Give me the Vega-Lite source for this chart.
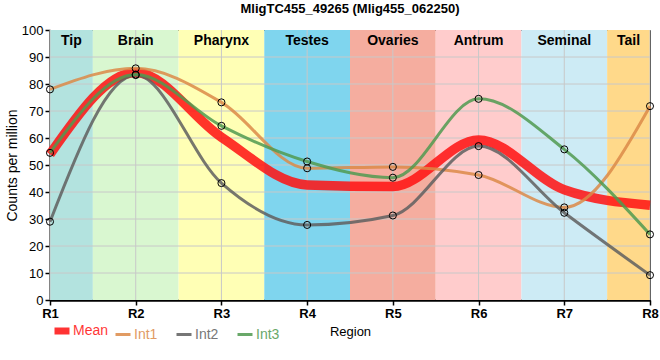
{
  "$schema": "https://vega.github.io/schema/vega-lite/v6.json",
  "width": 600,
  "height": 270,
  "autosize": {"type": "none"},
  "padding": {"left": 50, "top": 30, "right": 10, "bottom": 60},
  "title": {"text": "MligTC455_49265 (Mlig455_062250)", "font": "Liberation Sans", "fontSize": 13, "fontWeight": "bold", "color": "#000", "offset": 8},
  "config": {
    "font": "Liberation Sans",
    "view": {"stroke": "#000", "strokeWidth": 1},
    "axisX": {"grid": false, "domainColor": "#000", "domainWidth": 2.5, "tickColor": "#000", "tickSize": 5, "tickWidth": 1.5,
      "labelFont": "Liberation Sans", "labelFontSize": 13, "labelFontWeight": "bold", "labelColor": "#000", "labelPadding": 2,
      "titleFont": "Liberation Sans", "titleFontSize": 13, "titleFontWeight": "normal", "titleColor": "#000", "titlePadding": 5, "labelFlush": false, "labelOverlap": false},
    "axisY": {"grid": false, "labelOverlap": false, "domainColor": "#000", "domainWidth": 2.5, "tickColor": "#000", "tickSize": 5, "tickWidth": 1.5,
      "labelFont": "Liberation Sans", "labelFontSize": 13, "labelColor": "#000", "labelPadding": 2,
      "titleFont": "Liberation Sans", "titleFontSize": 14, "titleFontWeight": "normal", "titleColor": "#000", "titlePadding": 2}
  },
  "datasets": {
    "bands": [
      {"name": "Tip", "start": 1, "end": 1.5, "color": "#B3E3DF"},
      {"name": "Brain", "start": 1.5, "end": 2.5, "color": "#D9F7D0"},
      {"name": "Pharynx", "start": 2.5, "end": 3.5, "color": "#FFFFB5"},
      {"name": "Testes", "start": 3.5, "end": 4.5, "color": "#7FD5EE"},
      {"name": "Ovaries", "start": 4.5, "end": 5.5, "color": "#F5AD9F"},
      {"name": "Antrum", "start": 5.5, "end": 6.5, "color": "#FFCCCC"},
      {"name": "Seminal", "start": 6.5, "end": 7.5, "color": "#CDEBF5"},
      {"name": "Tail", "start": 7.5, "end": 8, "color": "#FFD98A"}
    ],
    "gridx": [{"v": 1}, {"v": 2}, {"v": 3}, {"v": 4}, {"v": 5}, {"v": 6}, {"v": 7}, {"v": 8}],
    "gridy": [{"v": 10}, {"v": 20}, {"v": 30}, {"v": 40}, {"v": 50}, {"v": 60}, {"v": 70}, {"v": 80}, {"v": 90}],
    "series": [
      {"region": 1, "series": "Mean", "value": 54},
      {"region": 2, "series": "Mean", "value": 84.3},
      {"region": 3, "series": "Mean", "value": 60.3},
      {"region": 4, "series": "Mean", "value": 42.6},
      {"region": 5, "series": "Mean", "value": 42},
      {"region": 6, "series": "Mean", "value": 59.3},
      {"region": 7, "series": "Mean", "value": 40.8},
      {"region": 8, "series": "Mean", "value": 35.1},
      {"region": 1, "series": "Int1", "value": 78},
      {"region": 2, "series": "Int1", "value": 85.8},
      {"region": 3, "series": "Int1", "value": 73.2},
      {"region": 4, "series": "Int1", "value": 48.8},
      {"region": 5, "series": "Int1", "value": 49.3},
      {"region": 6, "series": "Int1", "value": 46.3},
      {"region": 7, "series": "Int1", "value": 34.3},
      {"region": 8, "series": "Int1", "value": 71.8},
      {"region": 1, "series": "Int2", "value": 29},
      {"region": 2, "series": "Int2", "value": 83.3},
      {"region": 3, "series": "Int2", "value": 43.3},
      {"region": 4, "series": "Int2", "value": 27.8},
      {"region": 5, "series": "Int2", "value": 31.3},
      {"region": 6, "series": "Int2", "value": 57},
      {"region": 7, "series": "Int2", "value": 32.3},
      {"region": 8, "series": "Int2", "value": 9.2},
      {"region": 1, "series": "Int3", "value": 54.5},
      {"region": 2, "series": "Int3", "value": 83.5},
      {"region": 3, "series": "Int3", "value": 64.5},
      {"region": 4, "series": "Int3", "value": 51.3},
      {"region": 5, "series": "Int3", "value": 45.3},
      {"region": 6, "series": "Int3", "value": 74.5},
      {"region": 7, "series": "Int3", "value": 55.8},
      {"region": 8, "series": "Int3", "value": 24.3}
    ]
  },
  "layer": [
    {
      "data": {"name": "bands"},
      "mark": {"type": "rect"},
      "encoding": {
        "x": {"field": "start", "type": "quantitative", "scale": {"domain": [1, 8], "nice": false, "zero": false},
          "axis": {"title": "Region", "values": [1, 2, 3, 4, 5, 6, 7, 8], "labelExpr": "'R' + datum.value"}},
        "x2": {"field": "end"},
        "y": {"datum": 0, "type": "quantitative", "scale": {"domain": [0, 100], "nice": false},
          "axis": {"title": "Counts per million", "values": [0, 10, 20, 30, 40, 50, 60, 70, 80, 90, 100]}},
        "y2": {"datum": 100},
        "fill": {"field": "color", "type": "nominal", "scale": null}
      }
    },
    {
      "data": {"name": "gridx"},
      "mark": {"type": "rule", "color": "#C8C8C8", "strokeWidth": 1},
      "encoding": {"x": {"field": "v", "type": "quantitative",
        "axis": {"title": "Region", "values": [1, 2, 3, 4, 5, 6, 7, 8], "labelExpr": "'R' + datum.value"}}}
    },
    {
      "data": {"name": "gridy"},
      "mark": {"type": "rule", "color": "#C8C8C8", "strokeWidth": 1},
      "encoding": {"y": {"field": "v", "type": "quantitative",
        "axis": {"title": "Counts per million", "values": [0, 10, 20, 30, 40, 50, 60, 70, 80, 90, 100]}}}
    },
    {
      "data": {"name": "bands"},
      "mark": {"type": "text", "font": "Liberation Sans", "fontSize": 14, "fontWeight": "bold", "baseline": "top", "dy": 4, "color": "#000"},
      "encoding": {
        "x": {"field": "mid", "type": "quantitative",
          "axis": {"title": "Region", "values": [1, 2, 3, 4, 5, 6, 7, 8], "labelExpr": "'R' + datum.value"}},
        "y": {"datum": 100, "type": "quantitative",
          "axis": {"title": "Counts per million", "values": [0, 10, 20, 30, 40, 50, 60, 70, 80, 90, 100]}},
        "text": {"field": "name"}
      },
      "transform": [{"calculate": "(datum.start + datum.end) / 2", "as": "mid"}]
    },
    {
      "data": {"name": "series"},
      "mark": {"type": "line", "interpolate": "monotone", "opacity": 0.85, "strokeCap": "butt"},
      "encoding": {
        "x": {"field": "region", "type": "quantitative",
          "axis": {"title": "Region", "values": [1, 2, 3, 4, 5, 6, 7, 8], "labelExpr": "'R' + datum.value"}},
        "y": {"field": "value", "type": "quantitative",
          "axis": {"title": "Counts per million", "values": [0, 10, 20, 30, 40, 50, 60, 70, 80, 90, 100]}},
        "color": {"field": "series", "type": "nominal",
          "scale": {"domain": ["Mean", "Int1", "Int2", "Int3"], "range": ["#FF1010", "#DC8A48", "#5F5F5F", "#509A50"]},
          "legend": {"title": null, "orient": "none", "legendX": 5, "legendY": 294, "direction": "horizontal", "gridAlign": "all",
            "symbolType": "stroke", "symbolSize": 225, "symbolStrokeWidth": 3, "symbolOpacity": 0.85,
            "labelFont": "Liberation Sans", "labelFontSize": 14, "columnPadding": 0, "labelOffset": 4,
            "encode": {
              "labels": {"update": {"fill": {"signal": "scale('color', datum.value)"}, "opacity": {"value": 0.85}}},
              "symbols": {"update": {"strokeWidth": {"signal": "datum.value === 'Mean' ? 7 : 3"}}}
            }}},
        "strokeWidth": {"condition": {"test": "datum.series === 'Mean'", "value": 9.5}, "value": 3},
        "order": {"field": "region", "type": "quantitative"}
      }
    },
    {
      "data": {"name": "series"},
      "transform": [{"filter": "datum.series !== 'Mean'"}],
      "mark": {"type": "point", "shape": "circle", "filled": false, "stroke": "#000", "strokeWidth": 1, "size": 50, "opacity": 1},
      "encoding": {
        "x": {"field": "region", "type": "quantitative",
          "axis": {"title": "Region", "values": [1, 2, 3, 4, 5, 6, 7, 8], "labelExpr": "'R' + datum.value"}},
        "y": {"field": "value", "type": "quantitative",
          "axis": {"title": "Counts per million", "values": [0, 10, 20, 30, 40, 50, 60, 70, 80, 90, 100]}}
      }
    }
  ]
}
